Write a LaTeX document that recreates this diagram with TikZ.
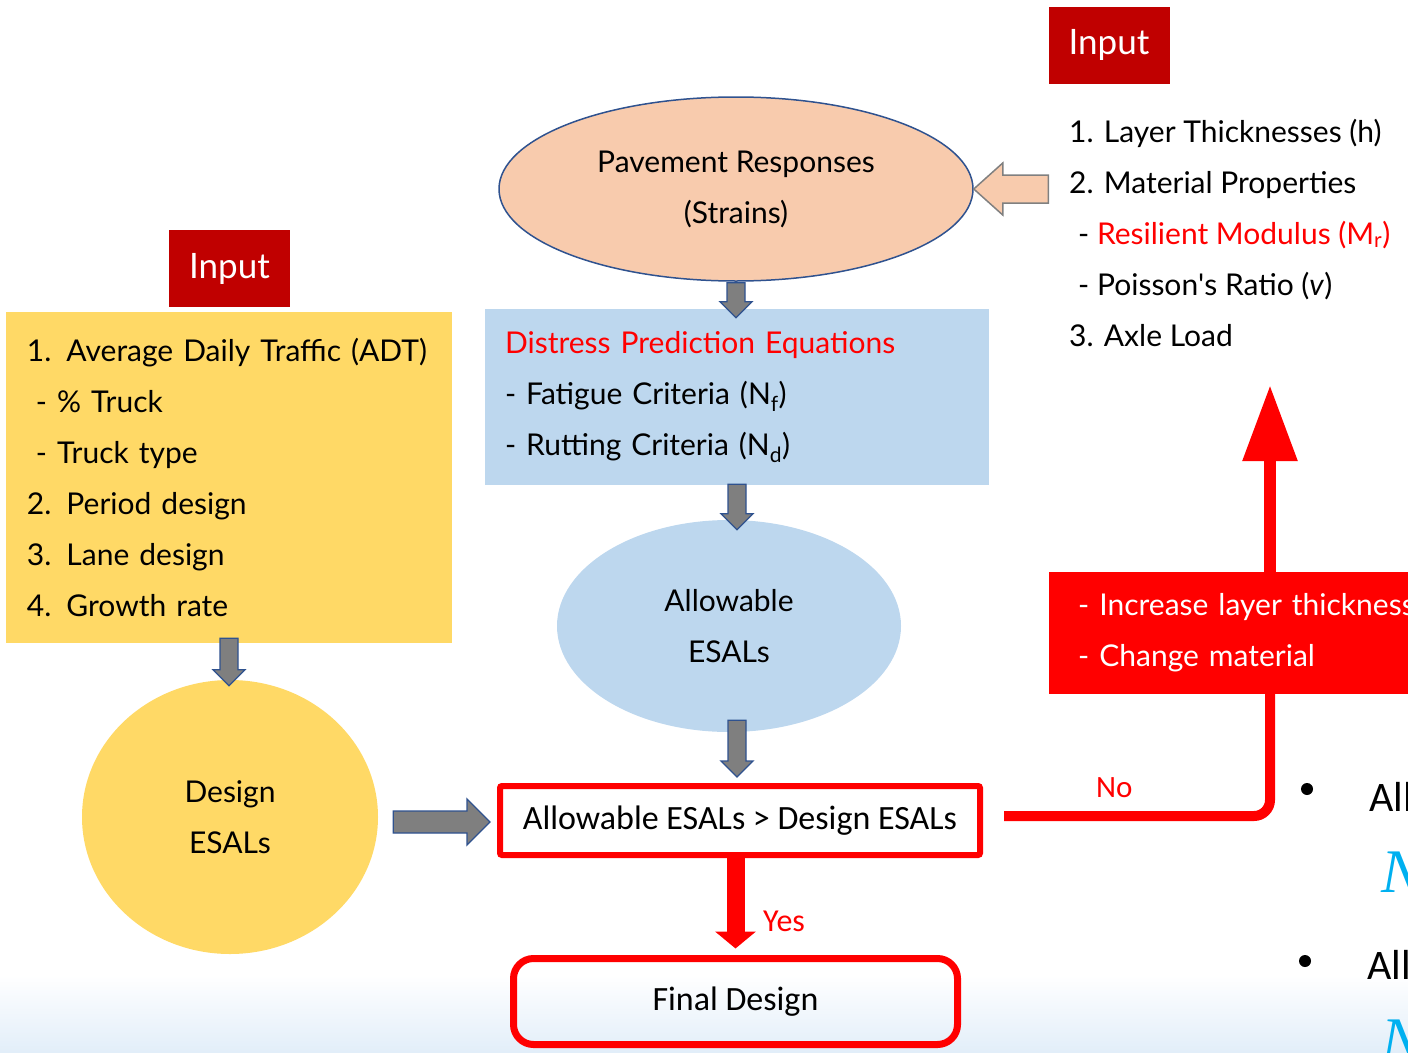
\documentclass[tikz,border=0pt]{standalone}
\usepackage{fontspec}
\setmainfont{Lato}
\newfontfamily\slidefont{Carlito}
\newfontfamily\mathlike{Liberation Serif}
\usepackage{tikz}
\usetikzlibrary{calc,shapes.geometric,arrows.meta}

\definecolor{inputred}{HTML}{C00000}
\definecolor{peach}{HTML}{F8CBAD}
\definecolor{paleblue}{HTML}{BDD7EE}
\definecolor{sunyellow}{HTML}{FFD966}
\definecolor{edgeblue}{HTML}{2F528F}
\definecolor{blockgray}{HTML}{7F7F7F}
\definecolor{bgblue}{HTML}{E2EEF9}
\definecolor{mathcyan}{HTML}{00B0F0}

\begin{document}
\begin{tikzpicture}[x=1pt, y=-1pt,
    inputbox/.style={fill=inputred, text=white, minimum width=121, minimum height=77,
        inner sep=0pt, font=\fontsize{35}{40}\selectfont},
    bodytext/.style={inner sep=0pt, font=\fontsize{30}{51}\selectfont},
    slidetext/.style={inner sep=0pt, font=\slidefont\fontsize{34}{40}\selectfont},
    downblock/.style={draw=edgeblue, fill=blockgray, line width=1.3pt,
        to path={let \p1=(\tikztostart), \p2=(\tikztotarget) in
            (\x1-9pt,\y1) -- (\x1+9pt,\y1) -- (\x1+9pt,\y2+16pt) -- (\x1+16pt,\y2+16pt)
            -- (\x1,\y2) -- (\x1-16pt,\y2+16pt) -- (\x1-9pt,\y2+16pt) -- cycle}},
    rightblock/.style={draw=edgeblue, fill=blockgray, line width=1.3pt,
        to path={let \p1=(\tikztostart), \p2=(\tikztotarget) in
            (\x1,\y1+11pt) -- (\x2-23pt,\y1+11pt) -- (\x2-23pt,\y1+23pt) -- (\x2,\y1)
            -- (\x2-23pt,\y1-23pt) -- (\x2-23pt,\y1-11pt) -- (\x1,\y1-11pt) -- cycle}},
    leftblock/.style={draw=gray, fill=peach, line width=1.5pt,
        to path={let \p1=(\tikztostart), \p2=(\tikztotarget) in
            (\x1,\y1+14pt) -- (\x2+29pt,\y1+14pt) -- (\x2+29pt,\y1+26pt) -- (\x2,\y1)
            -- (\x2+29pt,\y1-26pt) -- (\x2+29pt,\y1-14pt) -- (\x1,\y1-14pt) -- cycle}},
    redline/.style={draw=red, line width=10pt},
]
    \clip (0,0) rectangle (1408,1052);
    \useasboundingbox (0,0) rectangle (1408,1052);

    % Background
    \shade[top color=white, bottom color=bgblue] (0,975) rectangle (1408,1052);

    % Inputs
    \node[inputbox] (inR) at (1109,45) {Input};
    \node[inputbox] (inL) at (229.5,268.5) {Input};

    \node[bodytext, align=left, anchor=west] (props) at (1069,232.5)
        {1. Layer Thicknesses (h)\\
         2. Material Properties\\
         \hspace{9pt}- \textcolor{red}{Resilient Modulus (M\textsubscript{r})}\\
         \hspace{9pt}- Poisson\textquotesingle s Ratio (\textit{v})\\
         3. Axle Load};

    \node[bodytext, fill=sunyellow, align=left, text width=404, minimum width=446,
        minimum height=331] (traffic) at (229,477.5)
        {1. Average Daily Traffic (ADT)\\
         \hspace{9pt}- \% Truck\\
         \hspace{9pt}- Truck type\\
         2. Period design\\
         3. Lane design\\
         4. Growth rate};

    % Main chain
    \node[bodytext, ellipse, draw=edgeblue, fill=peach, line width=1.5pt, align=center,
        minimum width=474, minimum height=184] (resp) at (736,189)
        {Pavement Responses\\(Strains)};

    \node[bodytext, fill=paleblue, align=left, text width=464, minimum width=504,
        minimum height=176] (dpe) at (737,397)
        {\textcolor{red}{Distress Prediction Equations}\\
         - Fatigue Criteria (N\textsubscript{f})\\
         - Rutting Criteria (N\textsubscript{d})};

    \node[bodytext, ellipse, fill=paleblue, align=center, minimum width=344,
        minimum height=212] (allow) at (729,626) {Allowable\\ESALs};

    \node[bodytext, ellipse, fill=sunyellow, align=center, minimum width=296,
        minimum height=274] (design) at (230,817) {Design\\ESALs};

    \node[slidetext, draw=red, fill=white, line width=6pt, rounded corners=2pt,
        minimum width=480, minimum height=69] (check) at (740,820.5)
        {Allowable ESALs > Design ESALs};

    \node[slidetext, draw=red, line width=7pt, rounded corners=20pt,
        minimum width=444, minimum height=86] (final) at (735.5,1001.5) {Final Design};

    \node[bodytext, fill=red, text=white, align=left, anchor=west, inner xsep=29pt,
        text width=360, minimum height=122] (fix) at (1049,633)
        {- Increase layer thickness\\- Change material};

    % Block arrows
    \draw[leftblock] (inR.west |- resp.east) to (resp.east);
    \draw[downblock] ($(resp.south)+(0,1)$) to ($(dpe.north)+(0,9)$);
    \draw[downblock] ($(dpe.south)+(0,-1)$) to ($(dpe.south |- allow.north)+(0,10)$);
    \draw[downblock] ($(dpe.south |- allow.south)+(0,-12)$) to ($(dpe.south |- check.north)+(0,-6)$);
    \draw[downblock] ($(traffic.south)+(0,-5)$) to ($(traffic.south |- design.north)+(0,6)$);
    \draw[rightblock] ($(design.east)+(15,5)$) to ($(check.west)+(-7,1.5)$);

    % Decision
    \draw[red, line width=18pt, -{Triangle[width=40pt, length=17pt]}]
        (check.south -| final.north) -- ($(final.north)+(0,-6.5)$);
    \node[slidetext, text=red, anchor=west, font=\slidefont\fontsize{32}{36}\selectfont] (yes) at (763,921) {Yes};

    \coordinate (corner) at (1270,816);
    \coordinate (uptip) at (1270,385);
    \draw[redline, rounded corners=16pt] ($(check.east)+(21,-4.5)$) -- (corner) -- (corner |- fix.south);
    \draw[red, line width=12pt, -{Triangle[width=52pt, length=76pt]}] (corner |- fix.north) -- (uptip);
    \node[slidetext, text=red, anchor=west, font=\slidefont\fontsize{31}{36}\selectfont] (no) at (1096,788) {No};

    % Side notes
    \fill (1307,789) circle (6pt);
    \fill (1305,961) circle (6pt);
    \node[inner sep=0pt, anchor=west, font=\slidefont\fontsize{42}{48}\selectfont] (all1) at (1369,797) {All};
    \node[inner sep=0pt, anchor=west, font=\slidefont\fontsize{42}{48}\selectfont] (all2) at (1367,965) {All};
    \node[inner sep=0pt, anchor=west, text=mathcyan, font=\mathlike\itshape\fontsize{62}{62}\selectfont] (n1) at (1381,872) {N};
    \node[inner sep=0pt, anchor=west, text=mathcyan, font=\mathlike\itshape\fontsize{62}{62}\selectfont] (n2) at (1381,1040) {N};
\end{tikzpicture}
\end{document}
